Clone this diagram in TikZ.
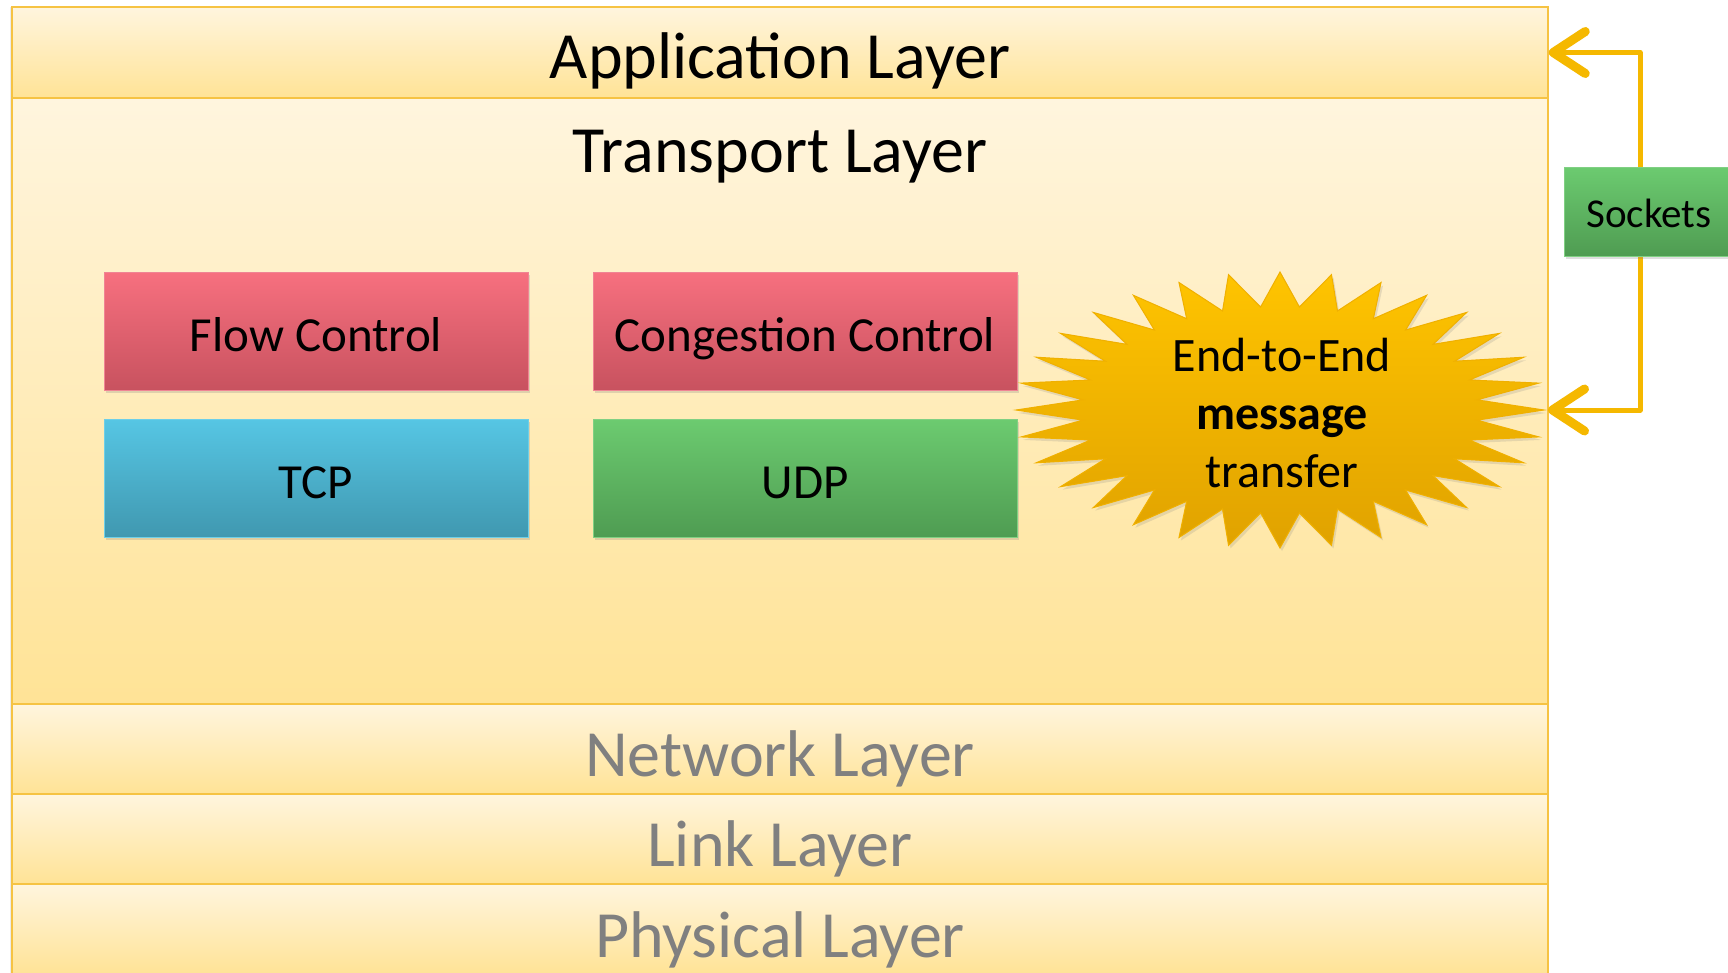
\documentclass[tikz,border=0pt]{standalone}
\usepackage{fontspec}
\setmainfont{Carlito}
\usepackage{pgf, tikz}
\usetikzlibrary{positioning, arrows.meta, shadows}

\definecolor{layerTop}{HTML}{FFF5DE}
\definecolor{layerBot}{HTML}{FFE396}
\definecolor{layerLine}{HTML}{F6C343}
\definecolor{redTop}{HTML}{F7707F}
\definecolor{redBot}{HTML}{C8525F}
\definecolor{redLine}{HTML}{F08494}
\definecolor{blueTop}{HTML}{56C6E4}
\definecolor{blueBot}{HTML}{4098B0}
\definecolor{blueLine}{HTML}{6DCFE8}
\definecolor{greenTop}{HTML}{6CCB70}
\definecolor{greenBot}{HTML}{4F9C52}
\definecolor{greenLine}{HTML}{80D083}
\definecolor{burstTop}{HTML}{FFC400}
\definecolor{burstBot}{HTML}{E0A200}
\definecolor{burstLine}{HTML}{F0B000}
\definecolor{gold}{HTML}{F5B800}
\definecolor{grayText}{HTML}{808080}

\tikzset{
    layer/.style={draw=layerLine, line width=1.5pt, top color=layerTop, bottom color=layerBot,
        minimum width=1536pt, inner sep=0pt,
        drop shadow={shadow xshift=-2pt, shadow yshift=0pt, opacity=0.15}},
    layername/.style={anchor=base, inner sep=0pt, font=\fontsize{66}{79}\selectfont},
    box/.style={minimum width=424pt, minimum height=118pt, line width=1pt,
        font=\fontsize{49}{59}\selectfont, text height=40pt, text depth=0pt,
        drop shadow={shadow xshift=2pt, shadow yshift=-3pt, opacity=0.25}},
    redbox/.style={box, draw=redLine, top color=redTop, bottom color=redBot},
    bluebox/.style={box, draw=blueLine, top color=blueTop, bottom color=blueBot},
    greenbox/.style={box, draw=greenLine, top color=greenTop, bottom color=greenBot},
}

\begin{document}
\begin{tikzpicture}[x=1pt, y=-1pt]
    \useasboundingbox[fill=white] (0,0) rectangle (1728,972);

    % layers
    \node[layer, minimum height=91pt] (app) at (780,52.5) {};
    \node[layer, minimum height=606pt] (trans) at (780,401) {};
    \node[layer, minimum height=90pt] (net) at (780,749) {};
    \node[layer, minimum height=90pt] (link) at (780,839) {};
    \node[layer, minimum height=90pt] (phys) at (780,929) {};
    \node[layername] (appName) at (780,78) {Application Layer};
    \node[layername] (transName) at (780,172) {Transport Layer};
    \node[layername, text=grayText] (netName) at (780,776) {Network Layer};
    \node[layername, text=grayText] (linkName) at (780,866) {Link Layer};
    \node[layername, text=grayText] (physName) at (780,957) {Physical Layer};

    % transport services
    \node[redbox] (flow) at (316,331) {Flow Control};
    \node[redbox, right=64pt of flow] (cong) {Congestion Control};
    \node[bluebox, below=28pt of flow] (tcp) {TCP};
    \node[greenbox, below=28pt of cong] (udp) {UDP};

    % end-to-end burst
    \coordinate (burstc) at (1280,410);
    \path[shift={(burstc)}, draw=burstLine, line width=1pt, top color=burstTop, bottom color=burstBot,
        drop shadow={shadow xshift=2pt, shadow yshift=-3pt, opacity=0.2}]
        plot[samples=65, domain=0:360, variable=\t]
        ({264*(0.875+0.125*cos(32*\t))*cos(\t)}, {138*(0.875+0.125*cos(32*\t))*sin(\t)}) -- cycle;
    \node[align=center, font=\fontsize{48}{58}\selectfont] (burst) at (1282,413)
        {End-to-End\\\textbf{message}\\transfer};

    % sockets
    \coordinate (sockTop) at (1640,52.5);
    \coordinate (sockBot) at (1640,410);
    \coordinate (burstR) at (1548,410);
    \draw[gold, line width=5pt, line join=round,
        {Straight Barb[length=32pt, width=42pt, line width=9pt, round]}-{Straight Barb[length=32pt, width=42pt, line width=9pt, round]}]
        (app.east) -- (sockTop) -- (sockBot) -- (burstR);
    \node[greenbox, minimum width=170pt, minimum height=89pt, text height=32pt,
        font=\fontsize{41}{49}\selectfont] (sock) at (1649,211.5) {Sockets};
\end{tikzpicture}
\end{document}
